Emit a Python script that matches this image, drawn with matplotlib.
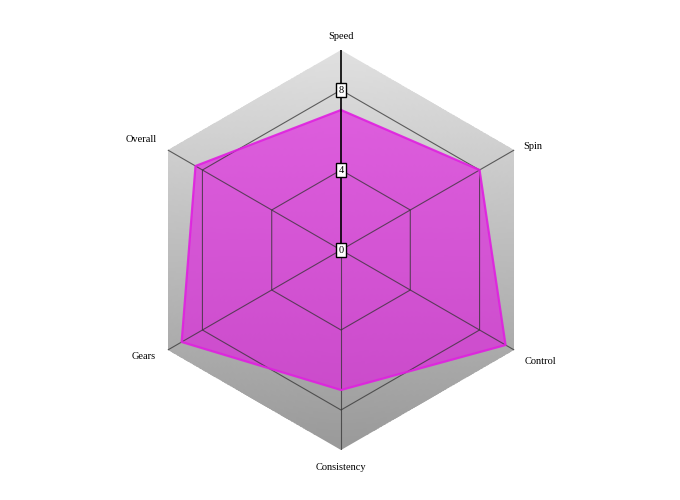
import numpy as np
import matplotlib
matplotlib.use("Agg")
import matplotlib.pyplot as plt
from matplotlib.colors import LinearSegmentedColormap
from matplotlib.patches import Polygon

# data
categories = ["Speed", "Spin", "Control", "Consistency", "Gears", "Overall"]
values = [7.0, 8.0, 9.5, 7.0, 9.2, 8.4]
ring_ticks = [0, 4, 8]
r_max = 10

plt.rcParams["font.family"] = ["Liberation Serif", "DejaVu Serif"]

n = len(categories)
angles = np.deg2rad(np.arange(n) * 360.0 / n)
closed_ang = np.append(angles, angles[0])

fig = plt.figure(figsize=(6.8, 5.0), dpi=100)
ax = fig.add_axes([141 / 680, 50 / 500, 400 / 680, 400 / 500], projection="polar")
ax.set_theta_zero_location("N")
ax.set_theta_direction(-1)
ax.set_ylim(0, r_max)
ax.set_axis_off()

# gray vertical gradient inside the outer hexagon
th = np.linspace(0, 2 * np.pi, 361)
rr = np.linspace(0, r_max, 61)
tc = 0.5 * (th[:-1] + th[1:])
rc = 0.5 * (rr[:-1] + rr[1:])
TC, RC = np.meshgrid(tc, rc)
grey = LinearSegmentedColormap.from_list("grey", ["#999999", "#e0e0e0"])
mesh = ax.pcolormesh(th, rr, RC * np.cos(TC), cmap=grey, vmin=-r_max, vmax=r_max,
                     shading="flat", zorder=0, antialiased=False)
hex_patch = Polygon(np.column_stack([angles, np.full(n, r_max)]), closed=True,
                    transform=ax.transData, facecolor="none", edgecolor="none")
ax.add_patch(hex_patch)
mesh.set_clip_path(hex_patch)

# data polygon
vals = np.append(values, values[0])
ax.fill(closed_ang, vals, color="#e21ae2", alpha=0.64, lw=0, zorder=1)

# grid rings and spokes
for t in ring_ticks[1:]:
    ax.plot(closed_ang, np.full(n + 1, t), color="#333333", lw=0.8, alpha=0.75, zorder=2)
for a in angles[1:]:
    ax.plot([a, a], [0, r_max], color="#333333", lw=0.8, alpha=0.75, zorder=2)

ax.plot(closed_ang, vals, color="#e020e0", lw=1.6, alpha=0.9, zorder=3)

# value axis on Speed
ax.plot([0, 0], [0, r_max], color="black", lw=1.2, zorder=4)
for t in ring_ticks:
    ax.text(0, t, str(t), ha="center", va="center", fontsize=7.5, zorder=5,
            bbox=dict(boxstyle="square,pad=0.2", fc="white", ec="black", lw=1.0))

# category labels
offsets = [(0, 14), (9, 4), (10, -11), (0, -17), (-12, -6), (-11, 10)]
aligns = ["center", "left", "left", "center", "right", "right"]
for a, lab, off, ha in zip(angles, categories, offsets, aligns):
    ax.annotate(lab, xy=(a, r_max), xytext=off, textcoords="offset pixels",
                ha=ha, va="center", fontsize=7.5, annotation_clip=False)

fig.savefig("out.png", dpi=100)
